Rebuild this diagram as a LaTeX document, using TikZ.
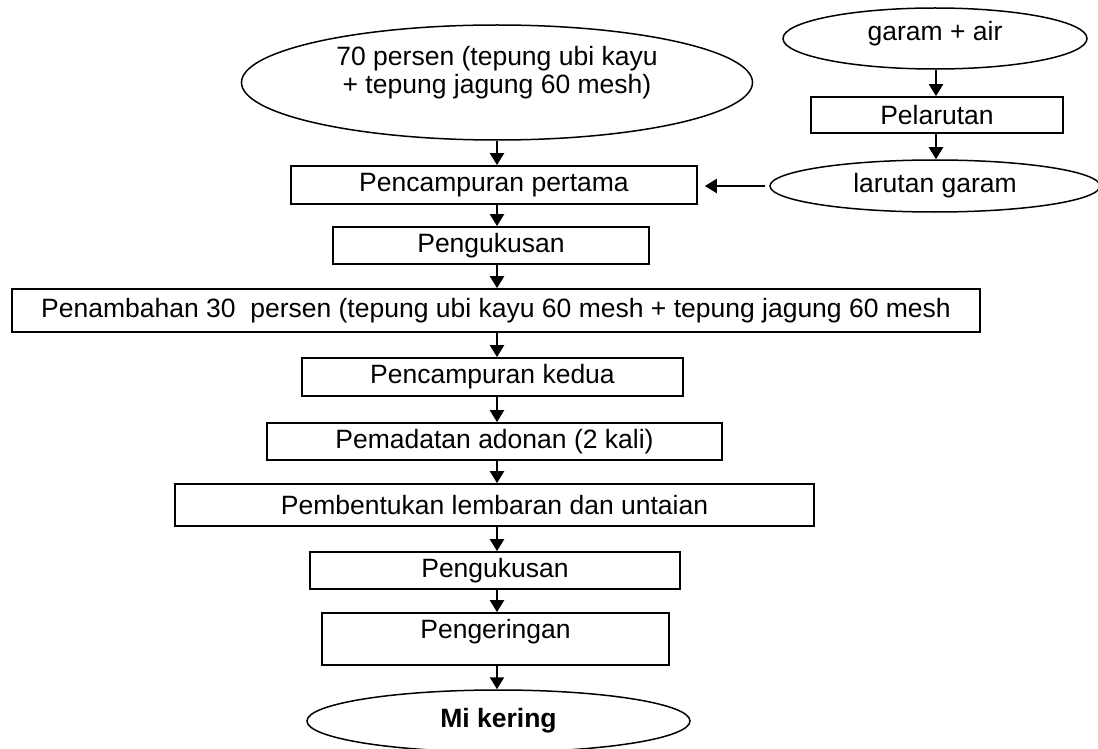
\documentclass[tikz,border=0pt]{standalone}
\usepackage{fontspec}
\setmainfont{Liberation Sans}
\usetikzlibrary{shapes.geometric,arrows.meta}
\begin{document}
\begin{tikzpicture}[x=1pt,y=-1pt,
  txt/.style={font=\fontsize{26.5}{28}\selectfont, inner sep=0pt, align=center},
  procbox/.style={draw, rectangle, line width=1.7pt, inner sep=0pt, font=\fontsize{26.5}{28}\selectfont},
  terminal/.style={draw, ellipse, line width=1.5pt, inner sep=0pt, font=\fontsize{26.5}{28}\selectfont},
  flow/.style={-{Triangle[width=14pt,length=12pt]}, line width=2.3pt}
]
\useasboundingbox (0,0) rectangle (1098,749);

% main column
\node[terminal, minimum width=511pt, minimum height=115pt] (in1) at (497,82.5) {};
\node[txt] (in1t) at (497,73) {70 persen (tepung ubi kayu\\+ tepung jagung 60 mesh)};
\node[procbox, minimum width=406pt, minimum height=38pt] (b1) at (494,185) {Pencampuran pertama};
\node[procbox, minimum width=316pt, minimum height=37pt] (b2) at (491,245.5) {Pengukusan};
\node[procbox, minimum width=968pt, minimum height=43pt] (b3) at (496,310.5) {Penambahan 30\ \ persen (tepung ubi kayu 60 mesh + tepung jagung 60 mesh};
\node[procbox, minimum width=381pt, minimum height=38pt] (b4) at (492.5,377) {Pencampuran kedua};
\node[procbox, minimum width=455pt, minimum height=37pt] (b5) at (494.5,441.5) {Pemadatan adonan (2 kali)};
\node[procbox, minimum width=639pt, minimum height=42pt] (b6) at (494.5,505) {Pembentukan lembaran dan untaian};
\node[procbox, minimum width=370pt, minimum height=37pt] (b7) at (495,570.5) {Pengukusan};
\node[procbox, minimum width=347pt, minimum height=52pt] (b8) at (495.5,639) {};
\node[txt] (b8t) at (495.5,632) {Pengeringan};
\node[terminal, minimum width=383pt, minimum height=62pt, font=\fontsize{26.5}{28}\selectfont\bfseries] (out) at (498.5,721) {Mi kering};

% side column
\node[terminal, minimum width=304pt, minimum height=61pt] (s1) at (935,38.5) {};
\node[txt] (s1t) at (935,34) {garam + air};
\node[procbox, minimum width=252pt, minimum height=36pt] (s2) at (937,115) {Pelarutan};
\node[terminal, minimum width=330pt, minimum height=52pt] (s3) at (935,186) {larutan garam};

% connectors
\coordinate (x0) at (497,0);
\draw[flow] (in1.south) -- (in1.south |- b1.north);
\draw[flow] (b1.south -| x0) -- (b2.north -| x0);
\draw[flow] (b2.south -| x0) -- (b3.north -| x0);
\draw[flow] (b3.south -| x0) -- (b4.north -| x0);
\draw[flow] (b4.south -| x0) -- (b5.north -| x0);
\draw[flow] (b5.south -| x0) -- (b6.north -| x0);
\draw[flow] (b6.south -| x0) -- (b7.north -| x0);
\draw[flow] (b7.south -| x0) -- (b8.north -| x0);
\draw[flow] (b8.south -| x0) -- (out.north -| x0);

\coordinate (x1) at (936,0);
\draw[flow] (s1.south -| x1) -- (s2.north -| x1);
\draw[flow] (s2.south -| x1) -- (s3.north -| x1);
\draw[flow, shorten >=7pt, shorten <=4pt] (s3.west) -- (b1.east |- s3.west);
\end{tikzpicture}
\end{document}
